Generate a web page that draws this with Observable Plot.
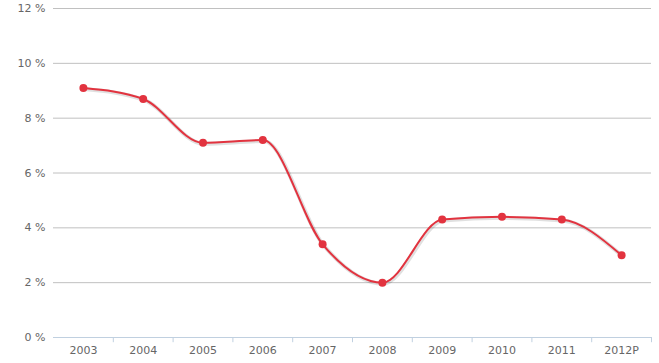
<!DOCTYPE html>
<html><head><meta charset="utf-8">
<script src="https://cdn.jsdelivr.net/npm/d3@7"></script>
<script src="https://cdn.jsdelivr.net/npm/@observablehq/plot@0.6"></script>
<style>body{margin:0;background:#fff}</style>
</head><body><div id="chart"></div>
<script>
const years = ["2003","2004","2005","2006","2007","2008","2009","2010","2011","2012P"];
const values = [9.1, 8.7, 7.1, 7.2, 3.4, 2.0, 4.3, 4.4, 4.3, 3.0];
const yTicks = [0, 2, 4, 6, 8, 10, 12];

const data = years.map((y, i) => ({i, year: y, value: values[i]}));
const boundaries = years.map((_, i) => i + 0.5);
const red = "#e2333f";
const font = "DejaVu Sans, sans-serif";

const chart = Plot.plot({
  width: 659, height: 363,
  marginLeft: 53, marginRight: 8, marginTop: 8, marginBottom: 26,
  style: {fontFamily: font, fontSize: "11px", color: "#666"},
  x: {domain: [-0.5, years.length - 0.5], ticks: years.map((_, i) => i), tickFormat: d => years[d], tickSize: 0, tickPadding: 9, label: null},
  y: {domain: [0, 12], ticks: yTicks, tickFormat: d => d + " %", tickSize: 0, tickPadding: 8, label: null},
  marks: [
    Plot.ruleY(yTicks.filter(d => d > 0), {stroke: "#c0c0c0", strokeWidth: 1}),
    Plot.ruleY([0], {stroke: "#c0d0e0", strokeWidth: 1}),
    Plot.ruleX(boundaries, {x: d => d, y1: 0, y2: -0.19, stroke: "#c0d0e0", strokeWidth: 1}),
    Plot.line(data, {x: "i", y: "value", curve: "monotone-x", stroke: "#000", strokeOpacity: 0.12, strokeWidth: 4, dx: 1, dy: 1}),
    Plot.line(data, {x: "i", y: "value", curve: "monotone-x", stroke: red, strokeWidth: 2}),
    Plot.dot(data, {x: "i", y: "value", r: 4, fill: red, stroke: null})
  ]
});
document.getElementById("chart").appendChild(chart);
</script>
</body></html>
